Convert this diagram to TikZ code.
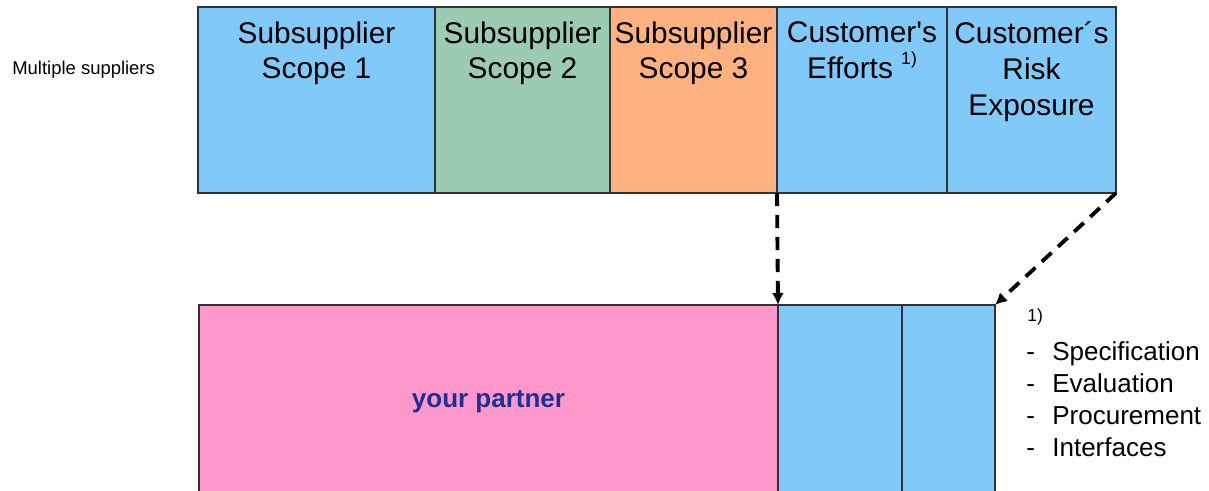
\documentclass[tikz,border=0pt]{standalone}
\usepackage{fontspec}
\setmainfont{Liberation Sans}
\usetikzlibrary{arrows.meta, positioning}
\definecolor{scopeblue}{RGB}{128,201,248}
\definecolor{scopegreen}{RGB}{155,203,178}
\definecolor{scopeorange}{RGB}{255,177,128}
\definecolor{partnerpink}{RGB}{255,152,202}
\definecolor{partnertext}{RGB}{28,48,150}
\tikzset{
  blk/.style      = {draw=black!80, line width=0.6pt, inner sep=0pt, outer sep=0pt},
  topblk/.style   = {blk, minimum height=3.72cm},
  lowblk/.style   = {blk, minimum height=3.74cm},
  toplbl/.style   = {font=\fontsize{17}{20.4}\selectfont, align=center, inner sep=0pt,
                     anchor=north, yshift=-0.28cm},
  dasharrow/.style = {-{Latex[length=2.4mm, width=2.4mm]}, line width=2.2pt,
                      dash pattern=on 7.5pt off 5pt},
  smalllbl/.style = {font=\fontsize{10.5}{12}\selectfont, inner sep=0pt},
  listlbl/.style  = {font=\fontsize{14.8}{18}\selectfont, inner sep=0pt, anchor=base west},
}

\begin{document}
\begin{tikzpicture}
  \path[use as bounding box] (0,0) rectangle (24.18,-9.8);
  \clip (0,0) rectangle (24.18,-9.8);

  % multiple suppliers row
  \node[smalllbl, anchor=west] (multi) at (0.24,-1.4) {Multiple suppliers};
  \node[topblk, fill=scopeblue, minimum width=4.74cm, anchor=north west,
        label={[toplbl]north:{Subsupplier\\Scope 1}}] (sub1) at (3.96,-0.14) {};
  \node[topblk, fill=scopegreen, minimum width=3.5cm, right=0pt of sub1,
        label={[toplbl]north:{Subsupplier\\Scope 2}}] (sub2) {};
  \node[topblk, fill=scopeorange, minimum width=3.34cm, right=0pt of sub2,
        label={[toplbl]north:{Subsupplier\\Scope 3}}] (sub3) {};
  \node[topblk, fill=scopeblue, minimum width=3.4cm, right=0pt of sub3,
        label={[toplbl]north:{Customer\textquotesingle s\\Efforts \raisebox{0.45em}{\fontsize{10}{12}\selectfont 1)}}}] (cefforts) {};
  \node[topblk, fill=scopeblue, minimum width=3.38cm, right=0pt of cefforts,
        label={[toplbl]north:{Customer´s\\Risk\\Exposure}}] (crisk) {};

  % single partner row
  \node[lowblk, fill=partnerpink, minimum width=11.58cm, anchor=north west] (partner) at (3.98,-6.1) {};
  \node[font=\bfseries\fontsize{14.8}{18}\selectfont, text=partnertext, yshift=-0.06cm]
        (partnerlbl) at (partner.center) {your partner};
  \node[lowblk, fill=scopeblue, minimum width=2.48cm, right=0pt of partner] (peffort) {};
  \node[lowblk, fill=scopeblue, minimum width=1.86cm, right=0pt of peffort] (prisk) {};

  \draw[dasharrow] (cefforts.south west) -- (peffort.north west);
  \draw[dasharrow] (crisk.south east) -- (prisk.north east);

  % footnote list
  \node[font=\fontsize{10}{12}\selectfont, inner sep=0pt, anchor=base west] (fnote) at (20.54,-6.42) {1)};
  \foreach \entry [count=\i] in {Specification, Evaluation, Procurement, Interfaces} {
    \node[listlbl] (dash\i) at (20.52,{-7.2-0.64*(\i-1)}) {-};
    \node[listlbl] (entry\i) at (21.04,{-7.2-0.64*(\i-1)}) {\entry};
  }
\end{tikzpicture}
\end{document}
